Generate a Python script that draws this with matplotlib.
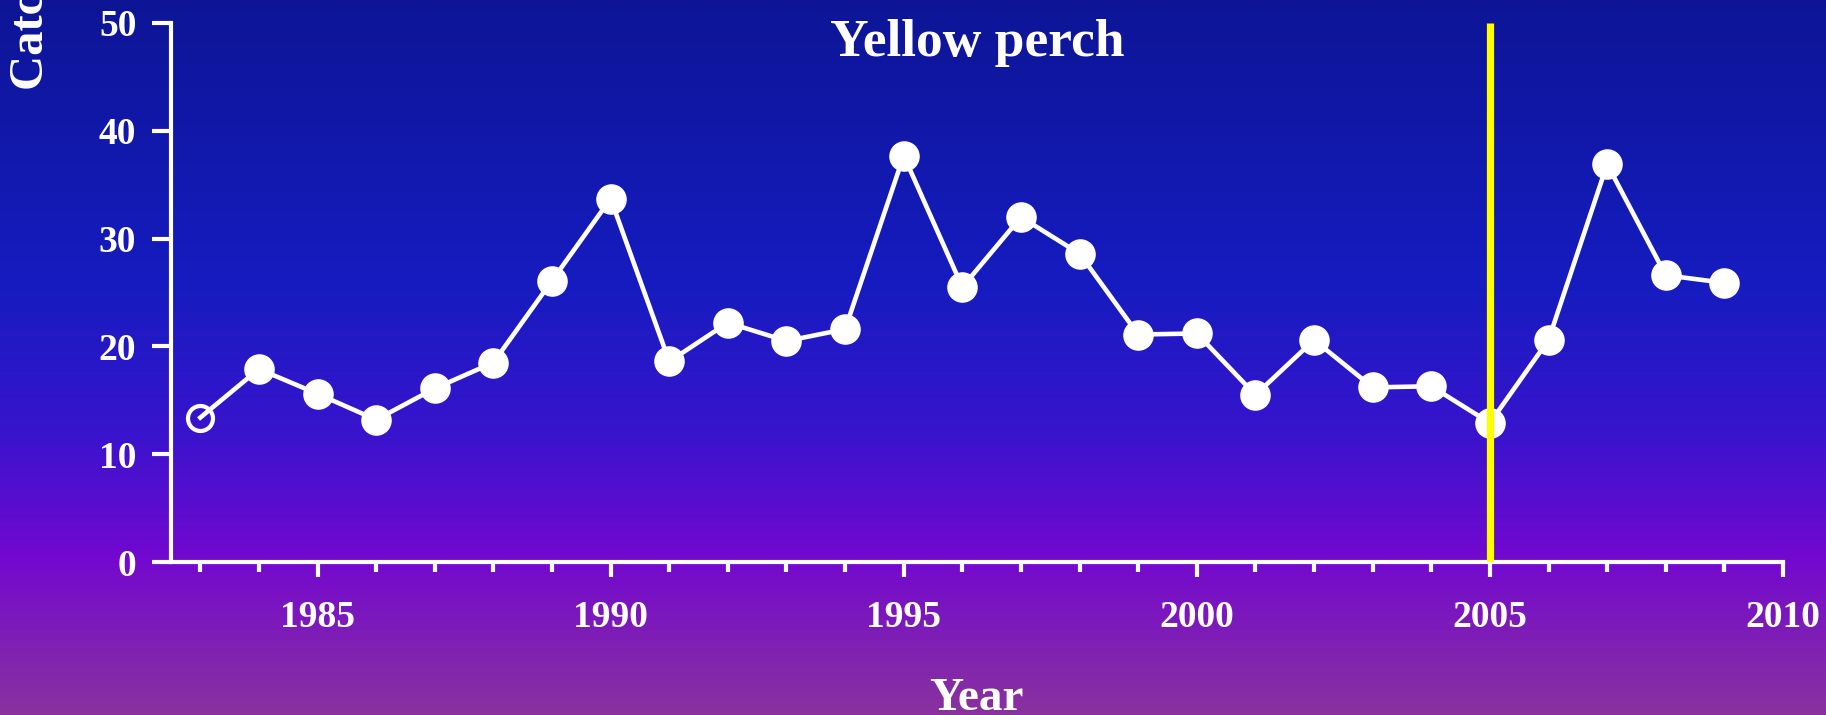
import numpy as np
import matplotlib
matplotlib.use("Agg")
import matplotlib.pyplot as plt
from matplotlib.colors import LinearSegmentedColormap

years = list(range(1983, 2010))
catch = [13.4, 17.9, 15.6, 13.2, 16.1, 18.5, 26.1, 33.7, 18.6, 22.2, 20.5, 21.6,
         37.7, 25.5, 32.0, 28.6, 21.1, 21.2, 15.5, 20.6, 16.2, 16.3, 12.9, 20.6,
         36.9, 26.6, 25.9]
major_ticks = [1985, 1990, 1995, 2000, 2005, 2010]
y_ticks = [0, 10, 20, 30, 40, 50]
marker_year = 2005
title = "Yellow perch"
xlabel = "Year"
ylabel = "Catch per unit effort"

plt.rcParams['font.family'] = ['Liberation Serif', 'DejaVu Serif']
plt.rcParams['font.weight'] = 'bold'

fig = plt.figure(figsize=(18.26, 7.15), dpi=100)

# gradient background
bg = fig.add_axes([0, 0, 1, 1], zorder=-10)
stops = [(0.0, (137/255, 50/255, 158/255)),
         (0.22, (115/255, 8/255, 208/255)),
         (0.40, (55/255, 20/255, 205/255)),
         (0.60, (22/255, 28/255, 192/255)),
         (1.0, (13/255, 21/255, 150/255))]
cmap = LinearSegmentedColormap.from_list("bg", stops)
grad = np.linspace(0, 1, 512).reshape(-1, 1)
bg.imshow(grad, aspect='auto', cmap=cmap, origin='lower', extent=[0, 1, 0, 1])
bg.set_axis_off()

ax = fig.add_axes([171/1826, 1 - 562/715, (1783 - 171)/1826, (562 - 23)/715])
ax.patch.set_alpha(0)

ax.plot(years, catch, color='white', lw=3.3, zorder=3)
ax.plot(years[1:], catch[1:], 'o', color='white', ms=21, zorder=4)
ax.plot(years[:1], catch[:1], 'o', mfc='none', mec='white', mew=3, ms=18, zorder=4)
ax.plot([marker_year, marker_year], [0, 50], color='#FFFF00', lw=5.2, zorder=5,
        solid_capstyle='butt')

ax.set_xlim(1982.5, 2010)
ax.set_ylim(0, 50)
for s in ['top', 'right']:
    ax.spines[s].set_visible(False)
for s in ['left', 'bottom']:
    ax.spines[s].set_color('white')
    ax.spines[s].set_linewidth(3)

ax.set_xticks(major_ticks)
ax.set_xticks(years + [2009], minor=True)
ax.set_yticks(y_ticks)
ax.tick_params(axis='x', which='major', length=10.5, width=3, color='white',
               labelcolor='white', labelsize=27, pad=17)
ax.tick_params(axis='x', which='minor', length=7, width=3, color='white')
ax.tick_params(axis='y', which='major', length=14, width=3, color='white',
               labelcolor='white', labelsize=27, pad=11)
for lab in ax.get_xticklabels() + ax.get_yticklabels():
    lab.set_fontweight('bold')

ax.text(0.5, 1 - (43 - 23) / (562 - 23), title, transform=ax.transAxes,
        ha='center', va='center', color='white', fontsize=38.5, fontweight='bold')

fig.text(976/1826, 1 - 699/715, xlabel, ha='center', va='center',
         color='white', fontsize=34, fontweight='bold')
fig.text(31/1826, 1 - 90/715, ylabel, ha='center', va='bottom', rotation=90,
         color='white', fontsize=35, fontweight='bold')

fig.savefig('out.png', dpi=100)
